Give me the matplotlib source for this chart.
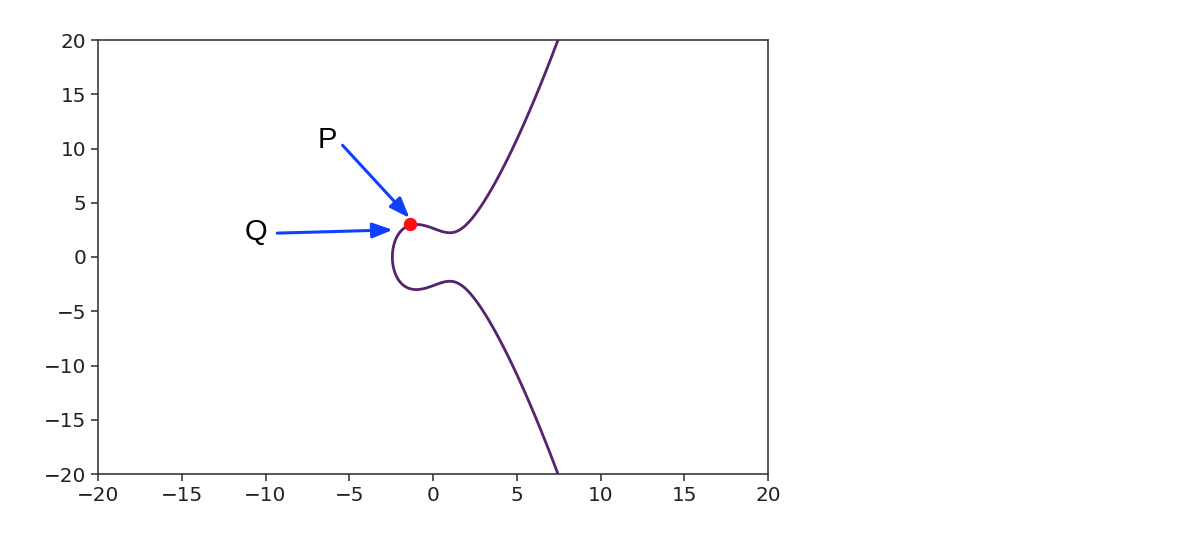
import numpy as np
import matplotlib
matplotlib.use("Agg")
import matplotlib.pyplot as plt

# Elliptic curve y^2 = x^3 + a*x + b (coefficients)
curve_a = -3.0
curve_b = 7.0
point_p = [-1.4, 3.0]
label_names = ["P", "Q"]
label_pos = [[-6.3, 10.8], [-10.6, 2.3]]
arrow_tail = [[-5.4, 10.3], [-9.3, 2.2]]
arrow_head = [[-1.4, 3.6], [-2.4, 2.5]]
x_ticks = [-20, -15, -10, -5, 0, 5, 10, 15, 20]
y_ticks = [-20, -15, -10, -5, 0, 5, 10, 15, 20]

S = 1.44
plt.rcParams['font.size'] = 10 * S
fig = plt.figure(figsize=(11.98, 5.38), dpi=100)
ax = fig.add_axes([98/1198, 1-474/538, (768-98)/1198, (474-40)/538])

y, x = np.ogrid[-20:20:1000j, -20:20:1000j]
ax.contour(x.ravel(), y.ravel(), y**2 - x**3 - curve_a*x - curve_b, [0],
           colors=['#56236f'], linewidths=1.4*S)
ax.plot(point_p[0], point_p[1], 'o', color='#ff1010', markersize=6*S, zorder=5)

for name, pos in zip(label_names, label_pos):
    ax.text(pos[0], pos[1], name, fontsize=21, family='Liberation Sans',
            ha='center', va='center', color='black')
for t, h in zip(arrow_tail, arrow_head):
    ax.annotate('', xy=h, xytext=t,
                arrowprops=dict(arrowstyle='-|>,head_length=0.85,head_width=0.32',
                                color='#1040ff', lw=2.2, shrinkA=0, shrinkB=0))

ax.set_xlim(-20, 20)
ax.set_ylim(-20, 20)
ax.set_xticks(x_ticks)
ax.set_yticks(y_ticks)
for s in ax.spines.values():
    s.set_linewidth(0.8*S)
    s.set_color('#333333')
ax.tick_params(length=3.5*S, width=0.8*S, colors='#333333', labelcolor='#222222')

fig.savefig('out.png', dpi=100)
